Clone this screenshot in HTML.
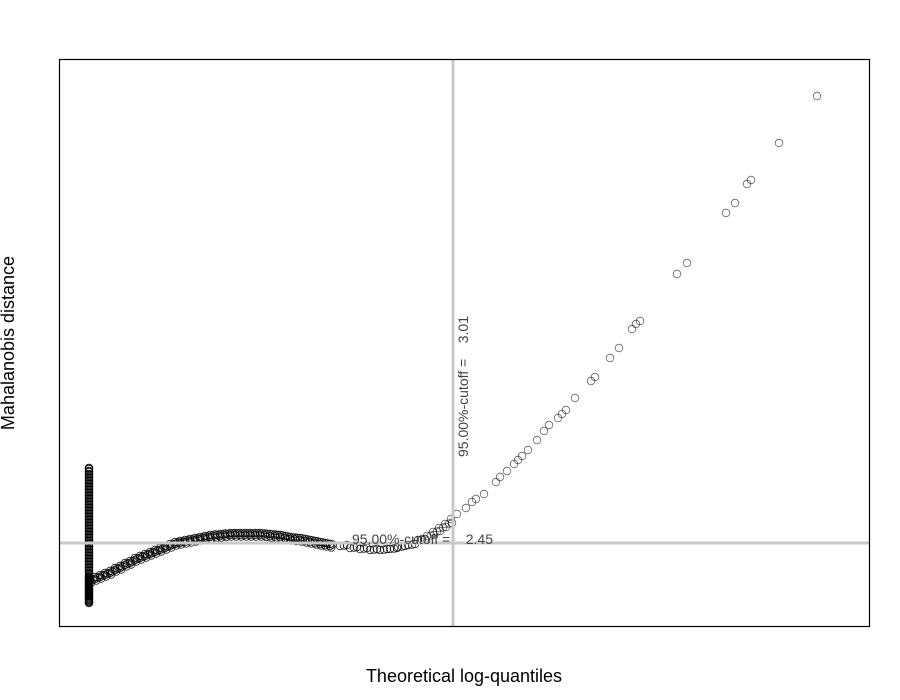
<!DOCTYPE html>
<html><head><meta charset="utf-8"><style>
html,body{margin:0;padding:0;background:#fff;}
svg{display:block;font-family:"Liberation Sans",Arial,sans-serif;}
</style></head><body>
<svg id="chart" width="900" height="700" viewBox="0 0 900 700">
<rect x="0" y="0" width="900" height="700" fill="#fff"/>
<g id="marks"></g>
<g id="refs"></g>
<rect x="59.5" y="59.5" width="810" height="567" fill="none" stroke="#000" stroke-width="1.2"/>
<text x="464" y="682" font-size="18" text-anchor="middle" fill="#000">Theoretical log-quantiles</text>
<text transform="translate(14,343) rotate(-90)" font-size="18" text-anchor="middle" fill="#000">Mahalanobis distance</text>
</svg>
<script>
// data (x: log-quantile units, y: distance units)
const colX = [0.30];
const colY = [0.24,0.26,0.28,0.30,0.32,0.34,0.36,0.38,0.40,0.42,0.44,0.46,0.48,0.50,0.53,0.56,0.59,0.62,0.65,0.68,0.71,0.74,0.77,0.80,0.83,0.86,0.89,0.92,0.95,0.98,1.01,1.04,1.07,1.10,1.13,1.16,1.19,1.22,1.25,1.28,1.31,1.34,1.37,1.40,1.43,1.46,1.49,1.52,1.55,1.58];
const curveX = [0.31,0.36,0.41,0.46,0.51,0.56,0.61,0.66,0.71,0.76,0.81,0.86,0.91,0.96,1.01,1.06,1.11,1.16,1.21,1.26,1.31,1.36,1.41,1.46,1.51,1.56,1.61,1.66,1.71,1.76,1.81,1.86,1.91,1.96,2.01,2.06,2.11,2.16,2.21,2.26,2.31,2.36,2.41,2.46,2.51,2.56,2.61,2.66,2.71,
2.81,2.91,3.01,3.11,3.21,3.31,3.39,3.49,3.59,
3.68,3.74,3.80,3.86,3.92,3.98,4.07,4.13,4.17,4.25,4.37,4.41,4.48,4.55,4.59,4.63,4.69,4.78,4.85,4.90,4.99,5.03,5.07,5.16,5.32,5.36,5.51,5.60,5.73,5.77,5.81,6.18,6.28,6.67,6.76,6.88,6.92,7.20,7.58];
const curveY = [0.48,0.50,0.52,0.54,0.56,0.59,0.61,0.64,0.66,0.69,0.71,0.73,0.75,0.77,0.79,0.81,0.83,0.85,0.86,0.87,0.88,0.89,0.90,0.91,0.92,0.925,0.93,0.935,0.94,0.94,0.94,0.94,0.94,0.94,0.94,0.935,0.93,0.925,0.92,0.91,0.90,0.895,0.89,0.88,0.87,0.86,0.85,0.84,0.83,
0.81,0.79,0.78,0.77,0.77,0.78,0.80,0.82,0.87,
0.91,0.95,0.99,1.03,1.08,1.13,1.19,1.25,1.28,1.33,1.45,1.50,1.56,1.63,1.67,1.71,1.77,1.87,1.96,2.02,2.09,2.13,2.17,2.29,2.46,2.50,2.69,2.79,2.98,3.03,3.06,3.53,3.64,4.14,4.24,4.43,4.47,4.84,5.31];
const cutoffX = [3.94];
const cutoffY = [0.84];
const cutoffLabels = ["95.00%-cutoff =    2.45", "95.00%-cutoff =    3.01"];

const NS = "http://www.w3.org/2000/svg";
function sx(v){ return 59 + v * 100; }
function sy(v){ return 627 - v * 100; }
const marks = document.getElementById('marks');
function pt(x, y, op){
  const c = document.createElementNS(NS, 'circle');
  c.setAttribute('cx', sx(x)); c.setAttribute('cy', sy(y)); c.setAttribute('r', 3.8);
  c.setAttribute('fill', 'none'); c.setAttribute('stroke', '#000');
  c.setAttribute('stroke-width', 0.8); c.setAttribute('stroke-opacity', op);
  
  
  marks.appendChild(c);
}
colY.forEach(y => { pt(colX[0], y, 1); pt(colX[0], y + 0.01, 1); });
curveX.forEach((x, i) => {
  const op = x < 3.6 ? 0.85 : 0.6;
  pt(x, curveY[i], op);
  if (x < 2.8) { pt(x + 0.025, curveY[i] - 0.005, op); pt(x, curveY[i] - 0.02, op); pt(x + 0.012, curveY[i] - 0.035, op); }
  else if (x < 3.9) { pt(x + 0.04, curveY[i] + 0.004, op); pt(x + 0.07, curveY[i] + 0.01, op); }
});
const refs = document.getElementById('refs');
const vl = document.createElementNS(NS, 'line');
vl.setAttribute('x1', sx(cutoffX[0])); vl.setAttribute('x2', sx(cutoffX[0]));
vl.setAttribute('y1', 59); vl.setAttribute('y2', 627);
vl.setAttribute('stroke', '#c8c8c8'); vl.setAttribute('stroke-width', 3);


refs.appendChild(vl);
const hl = document.createElementNS(NS, 'line');
hl.setAttribute('x1', 59); hl.setAttribute('x2', 869);
hl.setAttribute('y1', sy(cutoffY[0])); hl.setAttribute('y2', sy(cutoffY[0]));
hl.setAttribute('stroke', '#c8c8c8'); hl.setAttribute('stroke-width', 3);


refs.appendChild(hl);
const t1 = document.createElementNS(NS, 'text');
t1.setAttribute('x', sx(cutoffX[0]) + 40); t1.setAttribute('y', sy(cutoffY[0]) + 1);
t1.setAttribute('text-anchor', 'end'); t1.setAttribute('font-size', 14); t1.setAttribute('fill', '#444');
t1.style.whiteSpace = 'pre';
t1.textContent = cutoffLabels[0];


refs.appendChild(t1);
const t2 = document.createElementNS(NS, 'text');
t2.setAttribute('transform', 'translate(' + (sx(cutoffX[0]) + 15) + ',' + 457 + ') rotate(-90)');
t2.setAttribute('text-anchor', 'start'); t2.setAttribute('font-size', 14); t2.setAttribute('fill', '#444');
t2.style.whiteSpace = 'pre';
t2.textContent = cutoffLabels[1];


refs.appendChild(t2);
</script>
</body></html>
